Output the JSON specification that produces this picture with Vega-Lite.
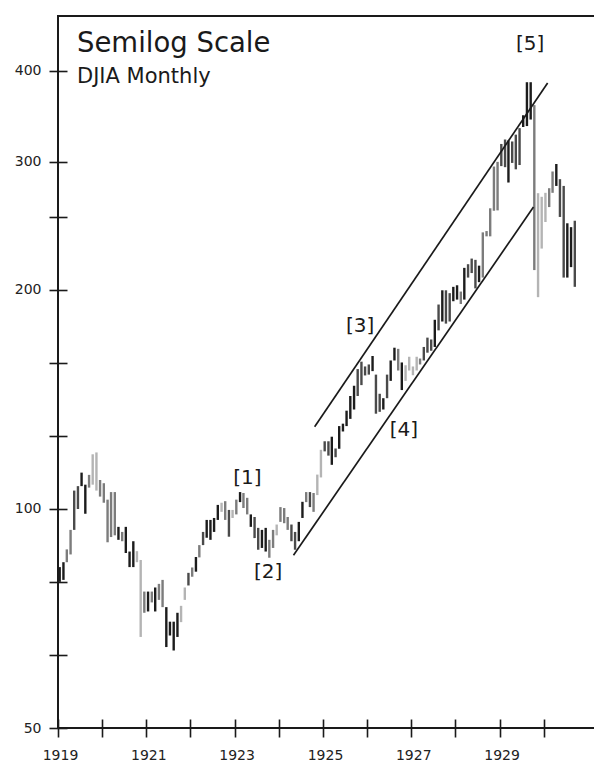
{
  "$schema": "https://vega.github.io/schema/vega-lite/v6.json",
  "width": 537,
  "height": 712,
  "autosize": {"type": "none"},
  "padding": {"left": 58, "top": 16, "right": 0, "bottom": 37},
  "background": "white",
  "config": {
    "view": {"stroke": "#1a1a1a", "strokeWidth": 2},
    "font": "DejaVu Sans",
    "axis": {
      "title": null,
      "domain": false,
      "grid": false,
      "offset": -9,
      "tickSize": 18,
      "tickWidth": 1.6,
      "tickColor": "#1a1a1a",
      "labelFont": "DejaVu Sans",
      "labelFontSize": 14,
      "labelColor": "#222",
      "labelOverlap": false,
      "labelFlush": false
    },
    "axisX": {"labelPadding": 11, "labelOffset": 2},
    "axisY": {"labelPadding": 8}
  },
  "datasets": {
    "bars": [
      {"month": "1919-01-15", "low": 79.4, "high": 83.2, "shade": "black"},
      {"month": "1919-02-15", "low": 79.9, "high": 84.5, "shade": "black"},
      {"month": "1919-03-15", "low": 84.5, "high": 88, "shade": "mid"},
      {"month": "1919-04-15", "low": 86.6, "high": 93.6, "shade": "mid"},
      {"month": "1919-05-15", "low": 93.6, "high": 106, "shade": "dark"},
      {"month": "1919-06-15", "low": 100, "high": 107.5, "shade": "dark"},
      {"month": "1919-07-15", "low": 107.5, "high": 112.2, "shade": "black"},
      {"month": "1919-08-15", "low": 98.5, "high": 108, "shade": "black"},
      {"month": "1919-09-15", "low": 107, "high": 111.4, "shade": "mid"},
      {"month": "1919-10-15", "low": 108, "high": 118.9, "shade": "light"},
      {"month": "1919-11-15", "low": 106, "high": 119.6, "shade": "light"},
      {"month": "1919-12-15", "low": 104, "high": 109.6, "shade": "mid"},
      {"month": "1920-01-15", "low": 102, "high": 108.5, "shade": "mid"},
      {"month": "1920-02-15", "low": 90, "high": 103, "shade": "mid"},
      {"month": "1920-03-15", "low": 91.5, "high": 105.5, "shade": "mid"},
      {"month": "1920-04-15", "low": 92, "high": 105.5, "shade": "mid"},
      {"month": "1920-05-15", "low": 90.7, "high": 94.5, "shade": "black"},
      {"month": "1920-06-15", "low": 90.3, "high": 93, "shade": "mid"},
      {"month": "1920-07-15", "low": 87, "high": 94.5, "shade": "black"},
      {"month": "1920-08-15", "low": 83.2, "high": 87.4, "shade": "black"},
      {"month": "1920-09-15", "low": 83.2, "high": 90.3, "shade": "black"},
      {"month": "1920-10-15", "low": 84.5, "high": 87.5, "shade": "light"},
      {"month": "1920-11-15", "low": 66.7, "high": 85.1, "shade": "light"},
      {"month": "1920-12-15", "low": 72, "high": 77, "shade": "mid"},
      {"month": "1921-01-15", "low": 72.3, "high": 77, "shade": "black"},
      {"month": "1921-02-15", "low": 74.4, "high": 77, "shade": "mid"},
      {"month": "1921-03-15", "low": 72.3, "high": 78, "shade": "black"},
      {"month": "1921-04-15", "low": 75, "high": 78.9, "shade": "mid"},
      {"month": "1921-05-15", "low": 73.3, "high": 79.9, "shade": "mid"},
      {"month": "1921-06-15", "low": 64.6, "high": 73.3, "shade": "black"},
      {"month": "1921-07-15", "low": 67, "high": 70, "shade": "black"},
      {"month": "1921-08-15", "low": 63.9, "high": 70, "shade": "black"},
      {"month": "1921-09-15", "low": 66.7, "high": 72, "shade": "black"},
      {"month": "1921-10-15", "low": 69.9, "high": 73.6, "shade": "light"},
      {"month": "1921-11-15", "low": 75, "high": 78, "shade": "light"},
      {"month": "1921-12-15", "low": 78.5, "high": 81.7, "shade": "dark"},
      {"month": "1922-01-15", "low": 80.7, "high": 83.1, "shade": "mid"},
      {"month": "1922-02-15", "low": 82, "high": 85.9, "shade": "black"},
      {"month": "1922-03-15", "low": 85.8, "high": 89.2, "shade": "mid"},
      {"month": "1922-04-15", "low": 89.2, "high": 93, "shade": "dark"},
      {"month": "1922-05-15", "low": 91.3, "high": 96.6, "shade": "black"},
      {"month": "1922-06-15", "low": 90.7, "high": 96.6, "shade": "black"},
      {"month": "1922-07-15", "low": 93, "high": 97.2, "shade": "black"},
      {"month": "1922-08-15", "low": 96.6, "high": 101.3, "shade": "black"},
      {"month": "1922-09-15", "low": 99.1, "high": 102, "shade": "light"},
      {"month": "1922-10-15", "low": 96.6, "high": 102.5, "shade": "mid"},
      {"month": "1922-11-15", "low": 91.6, "high": 99.7, "shade": "dark"},
      {"month": "1922-12-15", "low": 97.2, "high": 99.7, "shade": "light"},
      {"month": "1923-01-15", "low": 98.3, "high": 103, "shade": "mid"},
      {"month": "1923-02-15", "low": 102.2, "high": 105.5, "shade": "black"},
      {"month": "1923-03-15", "low": 100.3, "high": 105.2, "shade": "mid"},
      {"month": "1923-04-15", "low": 98.3, "high": 103.6, "shade": "mid"},
      {"month": "1923-05-15", "low": 94.5, "high": 98.3, "shade": "black"},
      {"month": "1923-06-15", "low": 91.2, "high": 97.5, "shade": "dark"},
      {"month": "1923-07-15", "low": 87.9, "high": 94.2, "shade": "dark"},
      {"month": "1923-08-15", "low": 88.4, "high": 93.6, "shade": "black"},
      {"month": "1923-09-15", "low": 87.4, "high": 94.2, "shade": "black"},
      {"month": "1923-10-15", "low": 85.7, "high": 90.7, "shade": "mid"},
      {"month": "1923-11-15", "low": 88.4, "high": 93.6, "shade": "mid"},
      {"month": "1923-12-15", "low": 92, "high": 95.2, "shade": "light"},
      {"month": "1924-01-15", "low": 96, "high": 100.6, "shade": "mid"},
      {"month": "1924-02-15", "low": 95.6, "high": 100.3, "shade": "mid"},
      {"month": "1924-03-15", "low": 93.6, "high": 97.5, "shade": "mid"},
      {"month": "1924-04-15", "low": 90.3, "high": 95.2, "shade": "dark"},
      {"month": "1924-05-15", "low": 87.9, "high": 93, "shade": "dark"},
      {"month": "1924-06-15", "low": 90.3, "high": 96, "shade": "black"},
      {"month": "1924-07-15", "low": 97.2, "high": 102.3, "shade": "black"},
      {"month": "1924-08-15", "low": 102.2, "high": 105.5, "shade": "mid"},
      {"month": "1924-09-15", "low": 100.6, "high": 105.5, "shade": "dark"},
      {"month": "1924-10-15", "low": 99.1, "high": 105.2, "shade": "mid"},
      {"month": "1924-11-15", "low": 104.5, "high": 111.5, "shade": "light"},
      {"month": "1924-12-15", "low": 110.5, "high": 120.6, "shade": "light"},
      {"month": "1925-01-15", "low": 120, "high": 123.9, "shade": "dark"},
      {"month": "1925-02-15", "low": 118.4, "high": 123.9, "shade": "dark"},
      {"month": "1925-03-15", "low": 115, "high": 125.7, "shade": "black"},
      {"month": "1925-04-15", "low": 117.8, "high": 121.1, "shade": "dark"},
      {"month": "1925-05-15", "low": 121, "high": 130, "shade": "black"},
      {"month": "1925-06-15", "low": 127.8, "high": 131, "shade": "black"},
      {"month": "1925-07-15", "low": 130, "high": 136.5, "shade": "black"},
      {"month": "1925-08-15", "low": 133, "high": 143, "shade": "black"},
      {"month": "1925-09-15", "low": 137, "high": 147.7, "shade": "black"},
      {"month": "1925-10-15", "low": 143, "high": 155.7, "shade": "dark"},
      {"month": "1925-11-15", "low": 148, "high": 159.4, "shade": "dark"},
      {"month": "1925-12-15", "low": 152.6, "high": 157, "shade": "dark"},
      {"month": "1926-01-15", "low": 153, "high": 158, "shade": "dark"},
      {"month": "1926-02-15", "low": 154.7, "high": 162.3, "shade": "black"},
      {"month": "1926-03-15", "low": 135.2, "high": 153, "shade": "dark"},
      {"month": "1926-04-15", "low": 136, "high": 144, "shade": "dark"},
      {"month": "1926-05-15", "low": 137, "high": 142, "shade": "black"},
      {"month": "1926-06-15", "low": 142, "high": 153, "shade": "dark"},
      {"month": "1926-07-15", "low": 150, "high": 160, "shade": "black"},
      {"month": "1926-08-15", "low": 160, "high": 166.6, "shade": "black"},
      {"month": "1926-09-15", "low": 155, "high": 166, "shade": "mid"},
      {"month": "1926-10-15", "low": 145.7, "high": 159, "shade": "black"},
      {"month": "1926-11-15", "low": 150, "high": 157.6, "shade": "light"},
      {"month": "1926-12-15", "low": 155, "high": 161.9, "shade": "light"},
      {"month": "1927-01-15", "low": 152.7, "high": 157, "shade": "light"},
      {"month": "1927-02-15", "low": 155, "high": 161.9, "shade": "light"},
      {"month": "1927-03-15", "low": 158, "high": 161, "shade": "mid"},
      {"month": "1927-04-15", "low": 160, "high": 167, "shade": "dark"},
      {"month": "1927-05-15", "low": 164, "high": 172, "shade": "dark"},
      {"month": "1927-06-15", "low": 165, "high": 171, "shade": "dark"},
      {"month": "1927-07-15", "low": 167, "high": 182, "shade": "black"},
      {"month": "1927-08-15", "low": 176, "high": 191, "shade": "dark"},
      {"month": "1927-09-15", "low": 181, "high": 199.8, "shade": "black"},
      {"month": "1927-10-15", "low": 179.8, "high": 199.8, "shade": "dark"},
      {"month": "1927-11-15", "low": 181, "high": 198, "shade": "dark"},
      {"month": "1927-12-15", "low": 193, "high": 202, "shade": "black"},
      {"month": "1928-01-15", "low": 194, "high": 203, "shade": "black"},
      {"month": "1928-02-15", "low": 191.3, "high": 199, "shade": "mid"},
      {"month": "1928-03-15", "low": 194, "high": 214.5, "shade": "black"},
      {"month": "1928-04-15", "low": 208, "high": 217, "shade": "dark"},
      {"month": "1928-05-15", "low": 211, "high": 220.9, "shade": "dark"},
      {"month": "1928-06-15", "low": 201, "high": 220, "shade": "dark"},
      {"month": "1928-07-15", "low": 205, "high": 216, "shade": "black"},
      {"month": "1928-08-15", "low": 208, "high": 240, "shade": "mid"},
      {"month": "1928-09-15", "low": 237, "high": 241, "shade": "mid"},
      {"month": "1928-10-15", "low": 237, "high": 259, "shade": "mid"},
      {"month": "1928-11-15", "low": 257, "high": 295.6, "shade": "mid"},
      {"month": "1928-12-15", "low": 257.3, "high": 300, "shade": "mid"},
      {"month": "1929-01-15", "low": 296, "high": 317.5, "shade": "dark"},
      {"month": "1929-02-15", "low": 295, "high": 322, "shade": "dark"},
      {"month": "1929-03-15", "low": 281, "high": 321, "shade": "black"},
      {"month": "1929-04-15", "low": 299, "high": 320, "shade": "dark"},
      {"month": "1929-05-15", "low": 293, "high": 327, "shade": "dark"},
      {"month": "1929-06-15", "low": 297, "high": 333.8, "shade": "dark"},
      {"month": "1929-07-15", "low": 335, "high": 347.7, "shade": "black"},
      {"month": "1929-08-15", "low": 336, "high": 386, "shade": "black"},
      {"month": "1929-09-15", "low": 343, "high": 386, "shade": "black"},
      {"month": "1929-10-15", "low": 213, "high": 359, "shade": "mid"},
      {"month": "1929-11-15", "low": 195.5, "high": 271.7, "shade": "light"},
      {"month": "1929-12-15", "low": 228, "high": 268.6, "shade": "light"},
      {"month": "1930-01-15", "low": 248, "high": 272, "shade": "light"},
      {"month": "1930-02-15", "low": 260, "high": 276, "shade": "mid"},
      {"month": "1930-03-15", "low": 272, "high": 291, "shade": "mid"},
      {"month": "1930-04-15", "low": 278, "high": 298, "shade": "black"},
      {"month": "1930-05-15", "low": 252, "high": 284, "shade": "dark"},
      {"month": "1930-06-15", "low": 208, "high": 278, "shade": "dark"},
      {"month": "1930-07-15", "low": 208, "high": 247, "shade": "black"},
      {"month": "1930-08-15", "low": 215, "high": 244, "shade": "black"},
      {"month": "1930-09-15", "low": 202, "high": 249, "shade": "dark"}
    ],
    "channels": [
      {"name": "upper", "start": "1924-10-24", "end": "1930-02-02", "from": 129.7, "to": 385},
      {"name": "lower", "start": "1924-05-02", "end": "1929-10-08", "from": 86.4, "to": 260}
    ],
    "notes": [
      {"kind": "title", "at": "1919-06-07", "value": 424.7, "text": "Semilog Scale"},
      {"kind": "subtitle", "at": "1919-06-07", "value": 384.6, "text": "DJIA Monthly"},
      {"kind": "wave", "at": "1923-04-17", "value": 110.3, "text": "[1]"},
      {"kind": "wave", "at": "1923-10-06", "value": 81.8, "text": "[2]"},
      {"kind": "wave", "at": "1925-11-04", "value": 178.5, "text": "[3]"},
      {"kind": "wave", "at": "1926-11-02", "value": 128.3, "text": "[4]"},
      {"kind": "wave", "at": "1929-09-10", "value": 436, "text": "[5]"}
    ]
  },
  "layer": [
    {
      "data": {"name": "bars"},
      "mark": {"type": "rule", "strokeWidth": 2.4},
      "encoding": {
        "x": {
          "field": "month",
          "type": "temporal",
          "scale": {
            "type": "utc",
            "domain": [
              {"year": 1919, "month": 1, "date": 1, "utc": true},
              {"year": 1931, "month": 3, "date": 1, "utc": true}
            ],
            "nice": false
          },
          "axis": {
            "labelFontSize": 14,
            "values": [
              {"year": 1919, "month": 1, "date": 1, "utc": true},
              {"year": 1920, "month": 1, "date": 1, "utc": true},
              {"year": 1921, "month": 1, "date": 1, "utc": true},
              {"year": 1922, "month": 1, "date": 1, "utc": true},
              {"year": 1923, "month": 1, "date": 1, "utc": true},
              {"year": 1924, "month": 1, "date": 1, "utc": true},
              {"year": 1925, "month": 1, "date": 1, "utc": true},
              {"year": 1926, "month": 1, "date": 1, "utc": true},
              {"year": 1927, "month": 1, "date": 1, "utc": true},
              {"year": 1928, "month": 1, "date": 1, "utc": true},
              {"year": 1929, "month": 1, "date": 1, "utc": true},
              {"year": 1930, "month": 1, "date": 1, "utc": true}
            ],
            "labelExpr": "utcyear(datum.value) % 2 == 1 ? utcFormat(datum.value, '%Y') : ''"
          }
        },
        "y": {
          "field": "low",
          "type": "quantitative",
          "scale": {"type": "log", "domain": [50, 476], "nice": false},
          "axis": {
            "labelFontSize": 14,
            "values": [50, 63, 79.37, 100, 126, 158.74, 200, 252, 300, 400],
            "format": "d",
            "labelExpr": "indexof([50, 100, 200, 300, 400], datum.value) >= 0 ? datum.label : ''"
          }
        },
        "y2": {"field": "high"},
        "color": {
          "field": "shade",
          "type": "nominal",
          "scale": {
            "domain": ["black", "dark", "mid", "light"],
            "range": ["#1c1c1c", "#4a4a4a", "#7c7c7c", "#b4b4b4"]
          },
          "legend": null
        }
      }
    },
    {
      "data": {"name": "channels"},
      "mark": {"type": "rule", "strokeWidth": 1.7, "color": "#1a1a1a"},
      "encoding": {
        "x": {"field": "start", "type": "temporal"},
        "x2": {"field": "end"},
        "y": {"field": "from", "type": "quantitative"},
        "y2": {"field": "to"}
      }
    },
    {
      "data": {"name": "notes"},
      "transform": [{"filter": "datum.kind == 'title'"}],
      "mark": {"type": "text", "align": "left", "baseline": "alphabetic", "fontSize": 27.5, "font": "DejaVu Sans", "color": "#1a1a1a"},
      "encoding": {
        "x": {"field": "at", "type": "temporal"},
        "y": {"field": "value", "type": "quantitative"},
        "text": {"field": "text"}
      }
    },
    {
      "data": {"name": "notes"},
      "transform": [{"filter": "datum.kind == 'subtitle'"}],
      "mark": {"type": "text", "align": "left", "baseline": "alphabetic", "fontSize": 21, "font": "DejaVu Sans", "color": "#1a1a1a"},
      "encoding": {
        "x": {"field": "at", "type": "temporal"},
        "y": {"field": "value", "type": "quantitative"},
        "text": {"field": "text"}
      }
    },
    {
      "data": {"name": "notes"},
      "transform": [{"filter": "datum.kind == 'wave'"}],
      "mark": {"type": "text", "align": "center", "baseline": "middle", "fontSize": 20, "font": "DejaVu Sans", "color": "#1a1a1a"},
      "encoding": {
        "x": {"field": "at", "type": "temporal"},
        "y": {"field": "value", "type": "quantitative"},
        "text": {"field": "text"}
      }
    }
  ]
}
